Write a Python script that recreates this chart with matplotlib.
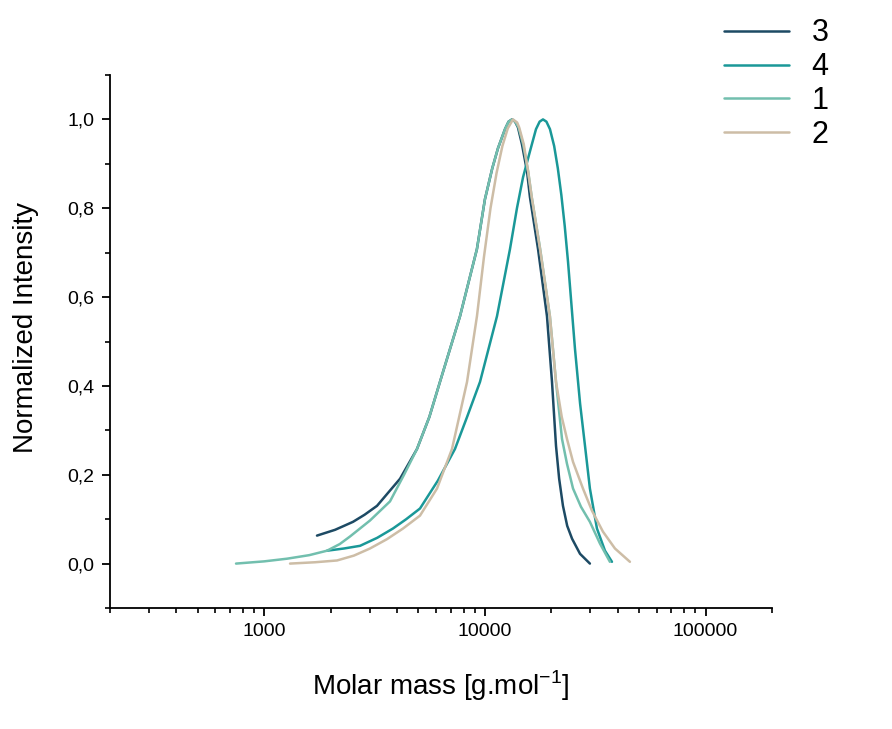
import matplotlib
matplotlib.use("Agg")
import matplotlib.pyplot as plt
from matplotlib.ticker import FixedLocator, FuncFormatter, LogLocator, NullFormatter, MultipleLocator

plt.rcParams['font.family'] = ['Liberation Sans', 'DejaVu Sans']

# Series (molar mass [g/mol], normalized intensity)
s3_x = [1734, 2093, 2300, 2525, 2850, 3244, 3650, 4125, 4923, 5600, 6256, 7713, 9200, 10000,
        10800, 11460, 12330, 12800, 13270, 13700, 14120, 14720, 15520, 16000, 17410, 19110,
        20140, 21000, 21700, 22580, 23600, 24830, 26980, 29910]
s3_y = [0.063, 0.076, 0.085, 0.094, 0.110, 0.130, 0.160, 0.191, 0.258, 0.330, 0.409, 0.557,
        0.708, 0.820, 0.890, 0.935, 0.978, 0.995, 1.000, 0.995, 0.982, 0.944, 0.883, 0.825,
        0.708, 0.557, 0.409, 0.265, 0.191, 0.130, 0.085, 0.056, 0.022, 0.000]

s4_x = [1925, 2300, 2718, 3250, 3832, 4400, 5080, 6125, 7316, 8300, 9501, 11345, 12990, 13970,
        14890, 16000, 17040, 17700, 18330, 19000, 19720, 20600, 21400, 22200, 23000, 23800,
        25600, 27000, 28420, 29910, 32190, 35000, 37650]
s4_y = [0.029, 0.034, 0.040, 0.058, 0.079, 0.100, 0.124, 0.187, 0.258, 0.330, 0.409, 0.557,
        0.708, 0.800, 0.870, 0.928, 0.978, 0.995, 1.000, 0.995, 0.978, 0.940, 0.890, 0.830,
        0.760, 0.680, 0.483, 0.360, 0.265, 0.169, 0.079, 0.029, 0.004]

s1_x = [745, 1000, 1268, 1600, 1925, 2200, 2447, 3015, 3714, 4300, 4923, 5600, 6256, 7713,
        9200, 10000, 10800, 11460, 12330, 12800, 13270, 13700, 14200, 14900, 15700, 16300,
        17800, 19700, 21000, 22350, 23540, 25080, 27240, 29910, 33230, 36860]
s1_y = [0.000, 0.005, 0.011, 0.019, 0.029, 0.044, 0.061, 0.097, 0.140, 0.200, 0.258, 0.330,
        0.409, 0.557, 0.708, 0.820, 0.890, 0.935, 0.978, 0.995, 1.000, 0.995, 0.982, 0.944,
        0.883, 0.825, 0.708, 0.557, 0.409, 0.281, 0.225, 0.169, 0.128, 0.094, 0.045, 0.004]

s2_x = [1309, 1700, 2137, 2550, 3015, 3600, 4256, 5080, 6067, 7093, 8298, 9204, 9900, 10600,
        11300, 12000, 12700, 13400, 14000, 14300, 15000, 15700, 16300, 17780, 19700, 21000,
        22300, 23540, 25080, 27820, 30570, 34260, 38840, 45410]
s2_y = [0.000, 0.003, 0.007, 0.018, 0.034, 0.055, 0.079, 0.108, 0.169, 0.258, 0.409, 0.557,
        0.690, 0.800, 0.880, 0.940, 0.980, 1.000, 0.993, 0.982, 0.944, 0.883, 0.825, 0.708,
        0.557, 0.409, 0.330, 0.281, 0.229, 0.169, 0.119, 0.072, 0.034, 0.004]

labels = ["3", "4", "1", "2"]
colors = ["#1d4a64", "#1a9898", "#72bfae", "#cdbda6"]

fig = plt.figure(figsize=(8.92, 7.29), dpi=100)
ax = fig.add_axes([110/892, 1-608/729, 662/892, 533/729])

series = [(s3_x, s3_y), (s4_x, s4_y), (s1_x, s1_y), (s2_x, s2_y)]
handles = []
for (xs, ys), lab, col in zip(series, labels, colors):
    h, = ax.plot(xs, ys, color=col, lw=1.8, label=lab,
                 solid_capstyle='round', solid_joinstyle='round')
    handles.append(h)

ax.set_xscale('log')
ax.set_xlim(200, 200000)
ax.set_ylim(-0.1, 1.1)

ax.spines['top'].set_visible(False)
ax.spines['right'].set_visible(False)
for sp in ['left', 'bottom']:
    ax.spines[sp].set_linewidth(1.3)

ax.xaxis.set_major_locator(FixedLocator([1000, 10000, 100000]))
ax.xaxis.set_major_formatter(FuncFormatter(lambda v, p: f"{int(round(v))}"))
ax.xaxis.set_minor_locator(LogLocator(base=10, subs=[2, 3, 4, 5, 6, 7, 8, 9], numticks=20))
ax.xaxis.set_minor_formatter(NullFormatter())

ax.yaxis.set_major_locator(FixedLocator([0.0, 0.2, 0.4, 0.6, 0.8, 1.0]))
ax.yaxis.set_major_formatter(FuncFormatter(lambda v, p: f"{v:.1f}".replace('.', ',')))
ax.yaxis.set_minor_locator(MultipleLocator(0.1))

ax.tick_params(which='major', direction='out', length=6, width=1.3, labelsize=14, pad=5)
ax.tick_params(which='minor', direction='out', length=3.5, width=1.2)

ax.set_xlabel("Molar mass [g.mol$^{\\mathregular{-1}}$]", fontsize=20, labelpad=20)
ax.set_ylabel("Normalized Intensity", fontsize=20)
ax.yaxis.set_label_coords(-0.108, 0.527)

fig.legend(handles=handles, labels=labels, loc='upper left',
           bbox_to_anchor=(703/892, 1 + 3/729), frameon=False, fontsize=22,
           handlelength=2.1, handletextpad=0.75, labelspacing=0.125, borderpad=0.2)

fig.savefig("out.png", dpi=100)
